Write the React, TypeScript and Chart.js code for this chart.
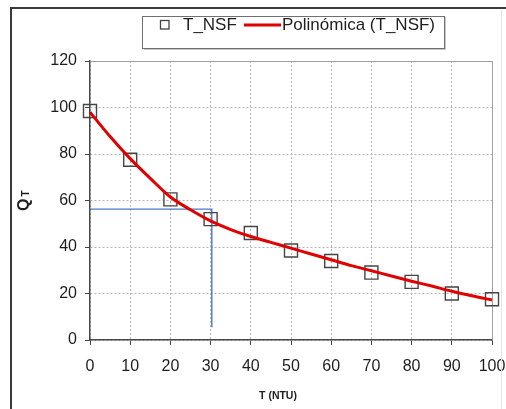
import React, { useEffect, useRef } from "react";
import { Chart, registerables } from "chart.js";

Chart.register(...registerables);

// ---- data ----
const xValues = [0, 10, 20, 30, 40, 50, 60, 70, 80, 90, 100];
const tNsfValues = [98.5, 77.5, 60.5, 52, 46, 38.5, 34, 29, 25, 20, 17.5];

const trendX = [0, 5, 10, 15, 20, 25, 30, 35, 40, 45, 50, 55, 60, 65, 70, 75, 80, 85, 90, 95, 100];
const trendY = [98, 87.5, 78, 69.5, 61.5, 56, 51.2, 47.5, 44.5, 42, 39.5, 37, 34.5, 32, 29.8, 27.5, 25.3, 23.2, 21, 19, 17.2];

const guideX = [0, 30.3, 30.3];
const guideY = [56.3, 56.3, 5.5];

const legendLabels = ["T_NSF", "Polinómica (T_NSF)"];
const xTitle = "T (NTU)";
const yTitleMain = "Q";
const yTitleSub = "T";

const FONT = "'Liberation Sans', Arial, sans-serif";

const decorPlugin = {
  id: "decor",
  beforeDatasetsDraw(chart: any) {
    const { ctx, chartArea: a } = chart;
    ctx.save();
    ctx.strokeStyle = "#a0a0a0";
    ctx.lineWidth = 1;
    ctx.beginPath();
    ctx.moveTo(a.left, a.top + 0.5);
    ctx.lineTo(a.right + 0.5, a.top + 0.5);
    ctx.lineTo(a.right + 0.5, a.bottom);
    ctx.stroke();
    ctx.restore();
  },
  afterDraw(chart: any) {
    const { ctx } = chart;
    ctx.save();
    // outer frame
    ctx.strokeStyle = "#3a3a3a";
    ctx.lineWidth = 2;
    ctx.beginPath();
    ctx.moveTo(11, 409);
    ctx.lineTo(11, 8);
    ctx.lineTo(506, 8);
    ctx.stroke();
    ctx.strokeStyle = "#e4e4e4";
    ctx.lineWidth = 1;
    ctx.beginPath();
    ctx.moveTo(501.5, 10);
    ctx.lineTo(501.5, 409);
    ctx.stroke();

    // legend box
    ctx.fillStyle = "#ffffff";
    ctx.fillRect(142, 16, 303, 32);
    ctx.strokeStyle = "#c8c8c8";
    ctx.lineWidth = 1;
    ctx.beginPath();
    ctx.moveTo(143.5, 49.5);
    ctx.lineTo(445.5, 49.5);
    ctx.lineTo(445.5, 17);
    ctx.stroke();
    ctx.strokeStyle = "#707070";
    ctx.strokeRect(142.5, 16.5, 302, 32);

    ctx.strokeStyle = "#444";
    ctx.lineWidth = 1.3;
    ctx.strokeRect(160.5, 20.5, 8.5, 8.5);
    ctx.fillStyle = "#1e1e1e";
    ctx.font = `17px ${FONT}`;
    ctx.textBaseline = "middle";
    ctx.textAlign = "left";
    ctx.fillText(legendLabels[0], 183, 25);
    ctx.strokeStyle = "#e00000";
    ctx.lineWidth = 3;
    ctx.beginPath();
    ctx.moveTo(244, 25);
    ctx.lineTo(281, 25);
    ctx.stroke();
    ctx.fillText(legendLabels[1], 282, 25);

    // x title
    ctx.font = `bold 10.5px ${FONT}`;
    ctx.textAlign = "center";
    ctx.textBaseline = "alphabetic";
    ctx.fillText(xTitle, 278, 399);

    // y title
    ctx.translate(29, 211);
    ctx.rotate(-Math.PI / 2);
    ctx.textAlign = "left";
    ctx.font = `bold 16px ${FONT}`;
    ctx.fillText(yTitleMain, 0, 0);
    const w = ctx.measureText(yTitleMain).width;
    ctx.font = `bold 10px ${FONT}`;
    ctx.fillText(yTitleSub, w + 2, 0);
    ctx.restore();
  },
};

export default function App() {
  const ref = useRef<HTMLCanvasElement | null>(null);
  useEffect(() => {
    if (!ref.current) return;
    Chart.defaults.font.family = FONT;
    const chart = new Chart(ref.current, {
      type: "scatter",
      data: {
        datasets: [
          {
            label: legendLabels[1],
            data: trendX.map((x, i) => ({ x, y: trendY[i] })),
            showLine: true,
            borderColor: "#e00000",
            borderWidth: 3,
            pointRadius: 0,
            tension: 0.4,
            cubicInterpolationMode: "monotone",
            clip: false,
          },
          {
            label: legendLabels[0],
            data: xValues.map((x, i) => ({ x, y: tNsfValues[i] })),
            showLine: false,
            pointStyle: "rect",
            pointRadius: 9.2,
            pointBorderColor: "#454545",
            pointBackgroundColor: "rgba(0,0,0,0)",
            pointBorderWidth: 1.4,
            clip: false,
          },
          {
            label: "guide",
            data: guideX.map((x, i) => ({ x, y: guideY[i] })),
            showLine: true,
            borderColor: "#4a78c8",
            borderWidth: 1.4,
            pointRadius: 0,
            tension: 0,
            clip: false,
          },
        ],
      } as any,
      options: {
        responsive: false,
        animation: false,
        devicePixelRatio: 1,
        layout: { padding: { left: 0, right: 14, top: 61, bottom: 0 } },
        plugins: { legend: { display: false }, tooltip: { enabled: false } },
        scales: {
          x: {
            type: "linear",
            min: 0,
            max: 100,
            afterFit: (s: any) => {
              s.height = 69;
              s.paddingLeft = 0;
              s.paddingRight = 0;
            },
            ticks: { stepSize: 10, color: "#1e1e1e", font: { size: 16 }, padding: 12 },
            grid: { color: "#b4b4b4", tickColor: "#444", tickLength: 5, lineWidth: 1 },
            border: { color: "#4a4a4a", width: 1.5, dash: [2, 2] },
          },
          y: {
            type: "linear",
            min: 0,
            max: 120,
            afterFit: (s: any) => {
              s.width = 90;
              s.paddingTop = 0;
              s.paddingBottom = 0;
            },
            ticks: { stepSize: 20, color: "#1e1e1e", font: { size: 16 }, padding: 8 },
            grid: { color: "#b4b4b4", tickColor: "#444", tickLength: 5, lineWidth: 1 },
            border: { color: "#4a4a4a", width: 1.5, dash: [2, 2] },
          },
        },
      } as any,
      plugins: [decorPlugin],
    });
    return () => chart.destroy();
  }, []);
  return (
    <div style={{ position: "absolute", left: 0, top: 0, width: 506, height: 409, background: "#fff" }}>
      <canvas ref={ref} width={506} height={409} style={{ display: "block" }} />
    </div>
  );
}
